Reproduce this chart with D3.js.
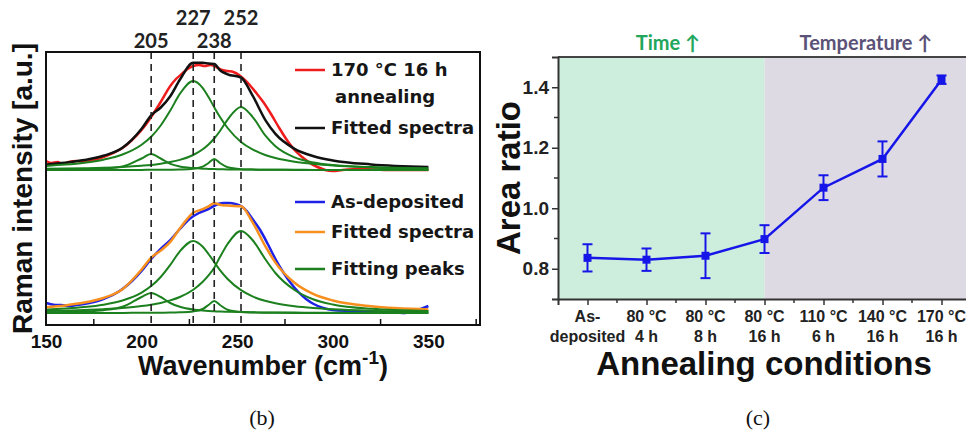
<!DOCTYPE html>
<html>
<head>
<meta charset="utf-8">
<script src="https://cdn.jsdelivr.net/npm/d3@7"></script>
<style>
  body { margin: 0; background: #fff; }
  text { font-family: Arial, "Liberation Sans", sans-serif; font-weight: bold; }
</style>
</head>
<body>
<svg id="chart" width="966" height="433"></svg>
<script>
// ---- data: Raman spectra (b) ----
const peakCenters = [205, 227, 238, 252];
const wnTicks = [150, 200, 250, 300, 350];
const wnMinorTicks = [175, 225, 275, 325, 375];

const fitGrid = [150, 160, 170, 180, 190, 200, 205, 210, 215, 220, 227, 232, 235,
  238, 241, 245, 252, 258, 265, 270, 280, 290, 300, 320, 350];

// 170 °C 16 h annealing - fitting peaks (a.u.)
const annealPeak205 = [.003, .005, .008, .015, .035, .115, .16, .115, .062, .035, .019, .013, .011,
  .009, .008, .006, .005, .004, .003, .002, .002, .001, .001, .001, 0];
const annealPeak227 = [.041, .054, .073, .103, .155, .253, .333, .445, .594, .761, .89, .819, .729,
  .627, .530, .420, .281, .206, .148, .120, .083, .061, .046, .029, .017];
const annealPeak238 = [0, 0, 0, .001, .001, .001, .002, .002, .003, .005, .013, .034, .070,
  .11, .070, .027, .008, .004, .002, .002, .001, .001, 0, 0, 0];
const annealPeak252 = [.012, .014, .018, .023, .031, .043, .051, .063, .079, .101, .150, .207, .255,
  .315, .390, .504, .63, .532, .338, .237, .126, .075, .049, .026, .013];

// as-deposited - fitting peaks (a.u.)
const depPeak205 = [.006, .009, .015, .028, .062, .16, .2, .16, .1, .062, .034, .024, .02,
  .017, .014, .012, .009, .007, .005, .005, .004, .003, .002, .002, .001];
const depPeak227 = [.033, .044, .059, .083, .125, .204, .269, .36, .481, .616, .72, .662, .590,
  .508, .429, .340, .228, .166, .120, .097, .067, .049, .037, .023, .014];
const depPeak238 = [0, 0, .001, .001, .001, .002, .002, .003, .004, .007, .016, .040, .080,
  .12, .080, .032, .010, .005, .003, .002, .001, .001, .001, 0, 0];
const depPeak252 = [.019, .023, .029, .038, .050, .069, .083, .101, .126, .160, .233, .312, .376,
  .453, .56, .69, .82, .73, .53, .40, .23, .135, .085, .042, .021];

// measured spectra [wavenumber, intensity]
const annealMeasured = [[150, .09], [153, .07], [156, .08], [159, .06], [162, .08], [166, .09], [170, .08],
  [175, .10], [180, .13], [185, .17], [190, .22], [195, .30], [200, .40], [205, .53], [210, .68],
  [215, .84], [218, .91], [221, .96], [224, 1.01], [227, 1.04], [230, 1.05], [233, 1.04], [236, 1.05],
  [239, 1.03], [242, 1.00], [245, .99], [248, .98], [251, .95], [254, .90], [257, .84], [260, .77],
  [264, .67], [268, .55], [272, .42], [276, .30], [280, .20], [284, .13], [288, .07], [292, .03],
  [296, 0], [300, -.01], [305, 0], [315, .01], [330, 0], [350, 0]];
const depMeasured = [[150, .10], [152, .09], [155, .08], [158, .08], [162, .07], [166, .08], [170, .09],
  [175, .11], [180, .14], [185, .18], [190, .24], [195, .32], [200, .42], [205, .54], [210, .64],
  [215, .73], [220, .84], [225, .94], [230, 1.00], [235, 1.04], [240, 1.09], [243, 1.10], [246, 1.10],
  [249, 1.09], [252, 1.07], [255, 1.02], [258, .94], [262, .83], [266, .69], [270, .54], [274, .41],
  [278, .30], [282, .21], [286, .14], [290, .09], [295, .05], [300, .03], [310, .02], [320, .01],
  [330, .01], [338, 0], [342, .03], [346, .04], [350, .07]];

// ---- data: area ratio (c) ----
const condLine1 = ["As-", "80 °C", "80 °C", "80 °C", "110 °C", "140 °C", "170 °C"];
const condLine2 = ["deposited", "4 h", "8 h", "16 h", "6 h", "16 h", "16 h"];
const areaRatio = [0.836, 0.830, 0.843, 0.898, 1.068, 1.163, 1.425];
const areaRatioErr = [0.045, 0.037, 0.074, 0.046, 0.041, 0.058, 0.014];
const ratioTicks = [0.8, 1.0, 1.2, 1.4];
const ratioMinorTicks = [0.9, 1.1, 1.3];

const svg = d3.select("#chart");

// ================= panel (b) =================
const bLeft = 46, bRight = 480, bTop = 52, bBottom = 325;
const x = d3.scaleLinear().domain([150, 377]).range([bLeft, bRight]);
const y = d3.scaleLinear().domain([-0.12, 2.61]).range([bBottom, bTop]);
const topOffset = 1.43;

const line = (off) => d3.line()
  .x(d => x(d[0]))
  .y(d => y(d[1] + off))
  .curve(d3.curveMonotoneX);

const zipGrid = (vals) => fitGrid.map((w, i) => [w, vals[i]]);
const sumPeaks = (arrs) => fitGrid.map((w, i) => [w, d3.sum(arrs, a => a[i])]);

const green = "#1b801d";

function drawSet(measured, measuredColor, fitColor, peaks, off) {
  const g = svg.append("g");
  g.append("path").datum(measured).attr("d", line(off))
    .attr("fill", "none").attr("stroke", measuredColor).attr("stroke-width", 2.5);
  g.append("path").datum(sumPeaks(peaks)).attr("d", line(off))
    .attr("fill", "none").attr("stroke", fitColor).attr("stroke-width", 2.5);
  peaks.forEach(p => {
    g.append("path").datum(zipGrid(p)).attr("d", line(off))
      .attr("fill", "none").attr("stroke", green).attr("stroke-width", 2);
  });
}

drawSet(depMeasured, "#1e22e6", "#f78f1e", [depPeak205, depPeak227, depPeak238, depPeak252], 0);
drawSet(annealMeasured, "#ee1c1c", "#111", [annealPeak205, annealPeak227, annealPeak238, annealPeak252], topOffset);

// dashed peak positions
svg.append("g").selectAll("line").data(peakCenters).join("line")
  .attr("x1", d => x(d)).attr("x2", d => x(d))
  .attr("y1", bTop).attr("y2", bBottom)
  .attr("stroke", "#222").attr("stroke-width", 1.6).attr("stroke-dasharray", "7,5");

// peak labels on top
const peakLabelY = [48, 25, 48, 25];
svg.append("g").selectAll("text").data(peakCenters).join("text")
  .attr("x", d => x(d)).attr("y", (d, i) => peakLabelY[i])
  .attr("text-anchor", "middle")
  .style("font-family", "Lato, 'Open Sans', sans-serif")
  .style("font-size", "20px").attr("fill", "#222")
  .text(d => d);

// frame
svg.append("rect").attr("x", bLeft).attr("y", bTop)
  .attr("width", bRight - bLeft).attr("height", bBottom - bTop)
  .attr("fill", "none").attr("stroke", "#111").attr("stroke-width", 2);

// x axis (b)
const xAxisB = svg.append("g").attr("transform", `translate(0,${bBottom})`);
xAxisB.call(d3.axisBottom(x).tickValues(wnTicks).tickSize(0).tickPadding(10).tickFormat(d3.format("d")));
xAxisB.select(".domain").remove();
xAxisB.selectAll("text").style("font-size", "19px").attr("fill", "#111");
svg.append("g").selectAll("line").data(wnMinorTicks).join("line")
  .attr("x1", d => x(d)).attr("x2", d => x(d))
  .attr("y1", bBottom).attr("y2", bBottom - 6)
  .attr("stroke", "#111").attr("stroke-width", 1.5);

const wnTitle = svg.append("text").attr("x", (bLeft + bRight) / 2).attr("y", 375)
  .attr("text-anchor", "middle").style("font-size", "27px").attr("fill", "#111");
wnTitle.append("tspan").text("Wavenumber (cm");
wnTitle.append("tspan").attr("dy", -11).style("font-size", "19px").text("-1");
wnTitle.append("tspan").attr("dy", 11).text(")");

svg.append("text")
  .attr("transform", `translate(32,${(bTop + bBottom) / 2}) rotate(-90)`)
  .attr("text-anchor", "middle").style("font-size", "28px").attr("fill", "#111")
  .text("Raman intensity [a.u.]");

// legends
const legendFont = "'DejaVu Sans', sans-serif";
const legendItems = [
  { color: "#ee1c1c", y: 70 }, { color: "#111", y: 128 },
  { color: "#1e22e6", y: 202 }, { color: "#f78f1e", y: 232 }, { color: green, y: 269 }
];
svg.append("g").selectAll("line").data(legendItems).join("line")
  .attr("x1", 295).attr("x2", 325).attr("y1", d => d.y).attr("y2", d => d.y)
  .attr("stroke", d => d.color).attr("stroke-width", 2.5);
const legendTexts = [
  { t: "170 °C 16 h", x: 331, y: 76 }, { t: "annealing", x: 335, y: 103 },
  { t: "Fitted spectra", x: 331, y: 134 }, { t: "As-deposited", x: 331, y: 208 },
  { t: "Fitted spectra", x: 331, y: 238 }, { t: "Fitting peaks", x: 331, y: 275 }
];
svg.append("g").selectAll("text").data(legendTexts).join("text")
  .attr("x", d => d.x).attr("y", d => d.y)
  .style("font-family", legendFont).style("font-size", "18px").attr("fill", "#161616")
  .text(d => d.t);

// ================= panel (c) =================
const cLeft = 558, cTop = 57, cBottom = 299;
const xc = d3.scaleLinear().domain([-0.5, 6.5]).range([cLeft, 971]);
const yc = d3.scaleLinear().domain([0.7, 1.5]).range([cBottom, cTop]);

svg.append("rect").attr("x", xc(-0.5)).attr("y", cTop)
  .attr("width", xc(3) - xc(-0.5)).attr("height", cBottom - cTop).attr("fill", "#cdeedc");
svg.append("rect").attr("x", xc(3)).attr("y", cTop)
  .attr("width", xc(6.5) - xc(3)).attr("height", cBottom - cTop).attr("fill", "#dedae3");

svg.append("text").attr("x", 668).attr("y", 50).attr("text-anchor", "middle")
  .style("font-family", "Lato, 'Open Sans', sans-serif").style("font-size", "20px")
  .attr("fill", "#22a65c").text("Time ↑");
svg.append("text").attr("x", 866).attr("y", 50).attr("text-anchor", "middle")
  .style("font-family", "Lato, 'Open Sans', sans-serif").style("font-size", "20px")
  .attr("fill", "#5b5278").text("Temperature ↑");

// top border
svg.append("line").attr("x1", cLeft).attr("x2", 966).attr("y1", cTop).attr("y2", cTop)
  .attr("stroke", "#444").attr("stroke-width", 2);

// y axis (c)
const yAxisC = svg.append("g").attr("transform", `translate(${cLeft},0)`)
  .call(d3.axisLeft(yc).tickValues(ratioTicks).tickSize(6).tickPadding(3).tickFormat(d3.format(".1f")));
yAxisC.select(".domain").attr("stroke", "#333").attr("stroke-width", 2);
yAxisC.selectAll(".tick line").attr("stroke", "#333").attr("stroke-width", 1.5);
yAxisC.selectAll("text").style("font-size", "19px").attr("fill", "#222");
svg.append("g").selectAll("line").data(ratioMinorTicks).join("line")
  .attr("x1", cLeft - 4).attr("x2", cLeft).attr("y1", d => yc(d)).attr("y2", d => yc(d))
  .attr("stroke", "#333").attr("stroke-width", 1.5);

// x axis (c)
const xAxisC = svg.append("g").attr("transform", `translate(0,${cBottom})`)
  .call(d3.axisBottom(xc).tickValues(d3.range(condLine1.length)).tickSize(6).tickFormat(""));
xAxisC.select(".domain").attr("stroke", "#333").attr("stroke-width", 2);
xAxisC.selectAll(".tick line").attr("stroke", "#333").attr("stroke-width", 1.5);
svg.append("g").selectAll("line").data(d3.range(condLine1.length - 1)).join("line")
  .attr("x1", d => xc(d + 0.5)).attr("x2", d => xc(d + 0.5))
  .attr("y1", cBottom).attr("y2", cBottom + 4)
  .attr("stroke", "#333").attr("stroke-width", 1.5);

const catLabels = svg.append("g").style("font-size", "16px").attr("fill", "#222");
catLabels.selectAll(".l1").data(condLine1).join("text").attr("class", "l1")
  .attr("x", (d, i) => xc(i)).attr("y", 322).attr("text-anchor", "middle").text(d => d);
catLabels.selectAll(".l2").data(condLine2).join("text").attr("class", "l2")
  .attr("x", (d, i) => xc(i)).attr("y", 342).attr("text-anchor", "middle").text(d => d);

svg.append("text").attr("x", 764).attr("y", 375).attr("text-anchor", "middle")
  .style("font-size", "33px").attr("fill", "#111").text("Annealing conditions");
svg.append("text")
  .attr("transform", `translate(520,178) rotate(-90)`)
  .attr("text-anchor", "middle").style("font-size", "33px").attr("fill", "#111")
  .text("Area ratio");

// data line, error bars, markers
const blue = "#1616e8";
svg.append("path").datum(areaRatio)
  .attr("d", d3.line().x((d, i) => xc(i)).y(d => yc(d)))
  .attr("fill", "none").attr("stroke", blue).attr("stroke-width", 2.5);
const eb = svg.append("g").attr("stroke", blue).attr("stroke-width", 2);
areaRatio.forEach((v, i) => {
  const lo = yc(v - areaRatioErr[i]), hi = yc(v + areaRatioErr[i]);
  eb.append("line").attr("x1", xc(i)).attr("x2", xc(i)).attr("y1", lo).attr("y2", hi);
  eb.append("line").attr("x1", xc(i) - 5).attr("x2", xc(i) + 5).attr("y1", lo).attr("y2", lo);
  eb.append("line").attr("x1", xc(i) - 5).attr("x2", xc(i) + 5).attr("y1", hi).attr("y2", hi);
});
svg.append("g").selectAll("rect").data(areaRatio).join("rect")
  .attr("x", (d, i) => xc(i) - 4).attr("y", d => yc(d) - 4)
  .attr("width", 8).attr("height", 8).attr("fill", blue);

// captions
svg.append("text").attr("x", 262).attr("y", 425).attr("text-anchor", "middle")
  .style("font-family", "'Liberation Serif', 'Times New Roman', serif").style("font-weight", "normal")
  .style("font-size", "22px").attr("fill", "#111").text("(b)");
svg.append("text").attr("x", 758).attr("y", 425).attr("text-anchor", "middle")
  .style("font-family", "'Liberation Serif', 'Times New Roman', serif").style("font-weight", "normal")
  .style("font-size", "22px").attr("fill", "#111").text("(c)");
</script>
</body>
</html>
